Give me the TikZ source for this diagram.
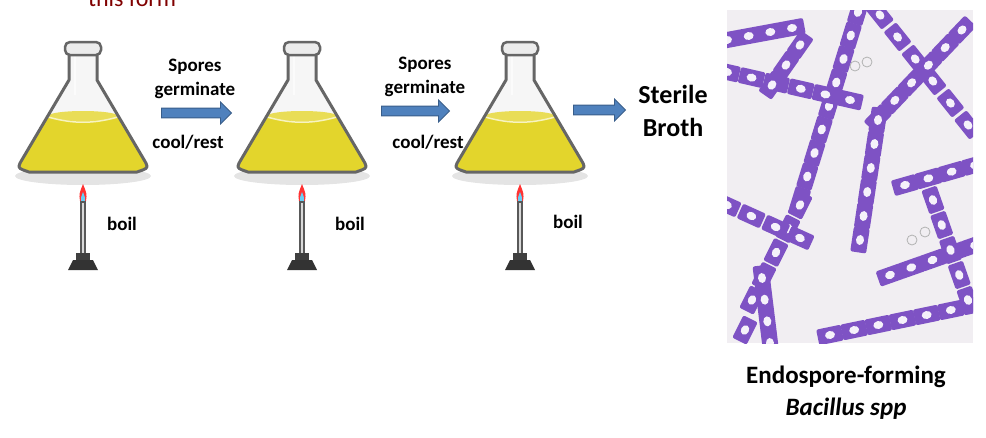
\documentclass[tikz,border=0pt]{standalone}
\usepackage{fontspec}
\setmainfont{Carlito}
\usetikzlibrary{shapes.arrows,shapes.geometric}
\definecolor{arr}{HTML}{4F81BD}
\definecolor{arrb}{HTML}{385D8A}
\definecolor{liq}{HTML}{E3D52C}
\definecolor{cellc}{HTML}{7E52C4}
\definecolor{bg}{HTML}{F1EEF2}
\tikzset{
 lbl/.style={font=\bfseries\fontsize{19}{24}\selectfont, align=center},
 bigarrow/.style={single arrow, draw=arrb, fill=arr, minimum height=#1, minimum width=22pt, single arrow head extend=3pt, inner sep=2pt, line width=0.8pt},
 cell/.style={rectangle, fill=cellc, minimum width=25pt, minimum height=16pt, inner sep=0pt, rounded corners=2pt},
 spot/.style={ellipse, fill=white!92!cellc, minimum width=10pt, minimum height=8pt, inner sep=0pt},
 pics/flask/.style={code={
  \fill[gray!35, opacity=0.6] (0,176) ellipse (68pt and 9pt);
  \fill[white!93!gray] (-14,52) -- (-14,80) -- (-60,158) .. controls (-66,168) .. (-54,172) -- (54,172) .. controls (66,168) .. (60,158) -- (14,80) -- (14,52) -- cycle;
  \fill[liq] (-35,115) -- (-60,158) .. controls (-66,168) .. (-54,172) -- (54,172) .. controls (66,168) .. (60,158) -- (35,115) -- cycle;
  \fill[liq!80!white] (0,116) ellipse (35pt and 5pt);
  \draw[white!70!liq, line width=1.5pt] (-35,117) .. controls (-10,124) and (10,124) .. (35,117);
  \draw[white, line width=2pt, opacity=0.6] (-8,56) -- (-8,95);
  \draw[gray!80!black, line width=3pt, line join=round] (-14,55) -- (-14,80) -- (-60,158) .. controls (-66,168) .. (-54,172) -- (54,172) .. controls (66,168) .. (60,158) -- (14,80) -- (14,55);
  \draw[gray!80!black, fill=gray!15, line width=2.5pt, rounded corners=5pt] (-18,42) rectangle (18,55);
 }},
 pics/burner/.style={code={
  \fill[red!80] (0,184) .. controls (-4,194) .. (-3,201) -- (3,201) .. controls (4,194) .. (0,184);
  \fill[cyan!60] (0,192) .. controls (-2,197) .. (-2,201) -- (2,201) .. controls (2,197) .. (0,192);
  \fill[gray!70!black] (-3,201) rectangle (3,256);
  \fill[gray!30] (-1,203) rectangle (1,254);
  \fill[black!75] (-7,253) rectangle (7,260);
  \fill[black!80] (-15,270) -- (-10,260) -- (10,260) -- (15,270) -- cycle;
 }}
}
\newcommand{\chainseg}[5]{%
 \path (#1,#2) -- (#3,#4) foreach \i in {0,...,#5} {node[pos=\i/#5, sloped, cell]{} node[pos=\i/#5, sloped, spot]{}};}
\begin{document}
\begin{tikzpicture}[x=1pt,y=-1pt]
\useasboundingbox (0,0) rectangle (986,437);
\node[text=red!50!black, font=\fontsize{24}{28}\selectfont, anchor=center] (title) at (132,-2) {this form};
\pic (f1) at (83,0) {flask};
\pic (f2) at (302,0) {flask};
\pic (f3) at (520,0) {flask};
\pic (b1) at (83,0) {burner};
\pic (b2) at (302,0) {burner};
\pic (b3) at (520,0) {burner};
\node[lbl] (boil1) at (122,224) {boil};
\node[lbl] (boil2) at (350,224) {boil};
\node[lbl] (boil3) at (568,222) {boil};
\node[lbl] (sp1) at (195,79) {Spores\\germinate};
\node[bigarrow=70pt] (a1) at (194,113) {};
\node[lbl] (cr1) at (188,142) {cool/rest};
\node[lbl] (sp2) at (425,77) {Spores\\germinate};
\node[bigarrow=68pt] (a2) at (413,111) {};
\node[lbl] (cr2) at (428,142) {cool/rest};
\node[bigarrow=52pt] (a3) at (597,110) {};
\node[font=\bfseries\fontsize{26}{33}\selectfont, align=center] (sb) at (673,111) {Sterile\\Broth};
\node[fill=bg, minimum width=246pt, minimum height=333pt, inner sep=0pt, anchor=north west] (micro) at (727,10) {};
\begin{scope}
\clip (727,10) rectangle (973,343);
\chainseg{727}{40}{792}{28}{3}
\chainseg{858}{12}{800}{200}{8}
\chainseg{800}{205}{752}{300}{4}
\chainseg{880}{15}{968}{125}{5}
\chainseg{962}{30}{878}{118}{5}
\chainseg{727}{72}{850}{100}{5}
\chainseg{800}{45}{772}{85}{2}
\chainseg{878}{120}{860}{240}{5}
\chainseg{727}{205}{800}{238}{3}
\chainseg{905}{185}{975}{165}{3}
\chainseg{890}{275}{975}{245}{4}
\chainseg{745}{330}{700}{420}{3}
\chainseg{830}{335}{975}{305}{6}
\chainseg{762}{278}{770}{343}{3}
\chainseg{933}{200}{968}{300}{4}
\end{scope}
\draw[gray!60, line width=0.8pt] (855,66) circle (5pt) (867,62) circle (5pt);
\draw[gray!60, line width=0.8pt] (912,240) circle (5pt) (925,232) circle (5pt);
\node[font=\bfseries\fontsize{25}{32}\selectfont, align=center] (cap) at (846,393) {Endospore-forming\\\textit{Bacillus spp}};
\end{tikzpicture}
\end{document}
